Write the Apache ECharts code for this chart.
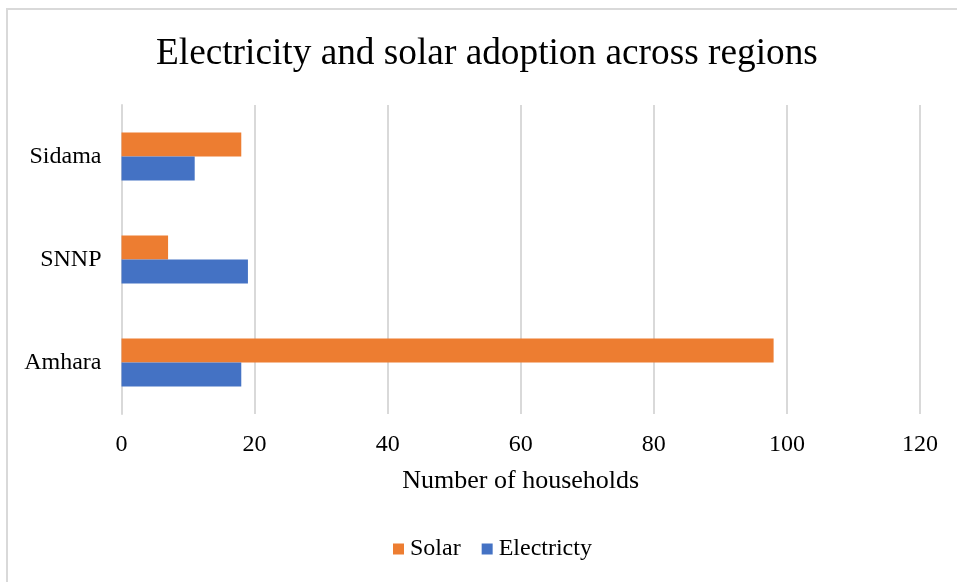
<!DOCTYPE html>
<html>
<head>
<meta charset="utf-8">
<script src="https://cdn.jsdelivr.net/npm/echarts@6/dist/echarts.min.js"></script>
<style>
html,body{margin:0;padding:0;background:#fff;}
#chart{width:957px;height:582px;}
</style>
</head>
<body>
<div id="chart"></div>
<script>
const categories = ['Amhara', 'SNNP', 'Sidama'];
const electricity = [18, 19, 11];
const solar = [98, 7, 18];
const xTicks = { min: 0, max: 120, interval: 20 };

const serif = '"Liberation Serif", "Times New Roman", serif';
const chart = echarts.init(document.getElementById('chart'), null, { renderer: 'canvas' });
chart.setOption({
  backgroundColor: '#fff',
  animation: false,
  graphic: [{
    type: 'rect', z: -10,
    shape: { x: 7, y: 9, width: 1000, height: 1000 },
    style: { fill: 'none', stroke: '#d9d9d9', lineWidth: 2 }
  }],
  title: {
    text: 'Electricity and solar adoption across regions',
    left: 151, top: 31,
    textStyle: { fontFamily: serif, fontSize: 37.3, fontWeight: 'normal', color: '#000' }
  },
  legend: {
    data: ['Solar', 'Electricty'],
    bottom: 16, left: 388,
    icon: 'rect', itemWidth: 11, itemHeight: 11, itemGap: 21,
    textStyle: { fontFamily: serif, fontSize: 24, color: '#000', padding: [0, 0, 0, 1] }
  },
  grid: { left: 121.5, right: 37, top: 105, bottom: 168, containLabel: false },
  xAxis: {
    type: 'value', min: xTicks.min, max: xTicks.max, interval: xTicks.interval,
    name: 'Number of households', nameLocation: 'middle', nameGap: 54,
    nameTextStyle: { fontFamily: serif, fontSize: 26, color: '#000' },
    axisLine: { show: false }, axisTick: { show: false },
    axisLabel: { fontFamily: serif, fontSize: 24, color: '#000', margin: 19 },
    splitLine: { lineStyle: { color: '#d9d9d9', width: 2 } }
  },
  yAxis: {
    type: 'category', data: categories,
    axisLine: { lineStyle: { color: '#d9d9d9', width: 2 } },
    axisTick: { length: 6, lineStyle: { color: '#d9d9d9', width: 2 } },
    axisLabel: { fontFamily: serif, fontSize: 24, color: '#000', margin: 20 }
  },
  series: [
    { name: 'Solar', type: 'bar', data: solar, barWidth: 24, barGap: '0%',
      itemStyle: { color: '#ED7D31' } },
    { name: 'Electricty', type: 'bar', data: electricity, barWidth: 24, barGap: '0%',
      itemStyle: { color: '#4472C4' } }
  ]
});
</script>
</body>
</html>
